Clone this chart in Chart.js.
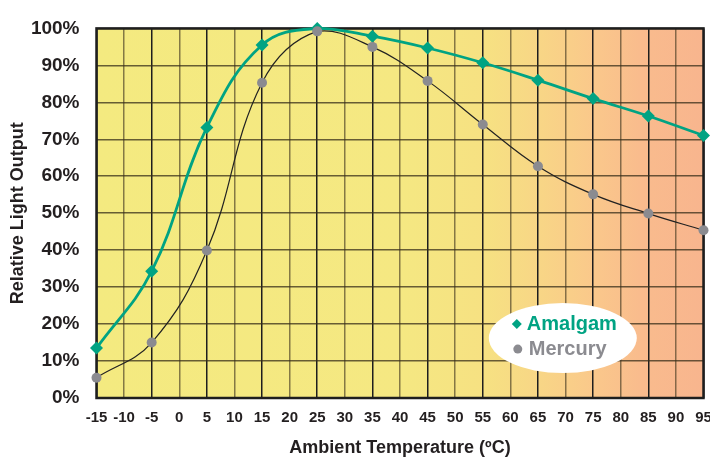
<!DOCTYPE html>
<html>
<head>
<meta charset="utf-8">
<script src="https://cdn.jsdelivr.net/npm/chart.js@4.4.1/dist/chart.umd.min.js"></script>
<style>
html,body{margin:0;padding:0;background:#fff;}
#wrap{position:relative;width:710px;height:458px;}
</style>
</head>
<body>
<div id="wrap"><canvas id="c" width="710" height="458"></canvas></div>
<script>
const temperatures = [-15, -5, 5, 15, 25, 35, 45, 55, 65, 75, 85, 95];
const amalgamOutput = [13.5, 34.3, 73.2, 95.5, 100, 97.9, 94.7, 90.7, 86, 81, 76.3, 71];
const mercuryOutput = [5.5, 15, 39.9, 85.3, 99.2, 95, 85.8, 74, 62.7, 55.1, 49.9, 45.4];
const seriesNames = ['Amalgam', 'Mercury'];
const xAxisTitle = 'Ambient Temperature (ºC)';
const yAxisTitle = 'Relative Light Output';
const xMin = -15, xMax = 95, xStep = 5;
const yMin = 0, yMax = 100, yStep = 10;

const TEAL = '#00a383';
const GREY = '#8b8b90';
const SANS = "'Liberation Sans', Arial, sans-serif";

const bgPlugin = {
  id: 'bg',
  beforeDraw(chart) {
    const {ctx, chartArea: a} = chart;
    const g = ctx.createLinearGradient(a.left, 0, a.right, 0);
    g.addColorStop(0, '#f4ea80');
    g.addColorStop(0.5, '#f5e882');
    g.addColorStop(0.64, '#f6e182');
    g.addColorStop(0.73, '#f8d686');
    g.addColorStop(0.82, '#fac88b');
    g.addColorStop(0.9, '#f9bb8d');
    g.addColorStop(1, '#f8b58e');
    ctx.save();
    ctx.fillStyle = g;
    ctx.fillRect(a.left, a.top, a.right - a.left, a.bottom - a.top);
    ctx.restore();
  },
  beforeDatasetsDraw(chart) {
    const {ctx, chartArea: a} = chart;
    ctx.save();
    ctx.strokeStyle = '#1e1e1e';
    ctx.lineWidth = 2.5;
    ctx.strokeRect(a.left, a.top, a.right - a.left, a.bottom - a.top);
    ctx.restore();
  },
  afterDraw(chart) {
    const {ctx} = chart;
    const xs = chart.scales.x, ys = chart.scales.y;
    const cx = xs.getPixelForValue(69.5), cy = ys.getPixelForValue(16.2);
    ctx.save();
    ctx.fillStyle = '#ffffff';
    ctx.beginPath();
    ctx.ellipse(cx, cy, 74, 35, 0, 0, Math.PI * 2);
    ctx.fill();
    const y1 = cy - 14, y2 = cy + 11;
    ctx.fillStyle = TEAL;
    ctx.beginPath();
    ctx.moveTo(cx - 51, y1);
    ctx.lineTo(cx - 46, y1 - 5);
    ctx.lineTo(cx - 41, y1);
    ctx.lineTo(cx - 46, y1 + 5);
    ctx.closePath();
    ctx.fill();
    ctx.font = 'bold 20px ' + SANS;
    ctx.textBaseline = 'middle';
    ctx.textAlign = 'left';
    ctx.fillText(seriesNames[0], cx - 36, y1);
    ctx.fillStyle = GREY;
    ctx.beginPath();
    ctx.arc(cx - 45, y2, 4.5, 0, Math.PI * 2);
    ctx.fill();
    ctx.fillText(seriesNames[1], cx - 34, y2);
    ctx.restore();
  }
};

const toPts = arr => temperatures.map((t, i) => ({x: t, y: arr[i]}));

new Chart(document.getElementById('c'), {
  type: 'line',
  data: {
    datasets: [
      {
        label: seriesNames[0],
        data: toPts(amalgamOutput),
        borderColor: TEAL,
        backgroundColor: TEAL,
        borderWidth: 2.8,
        pointStyle: 'rectRot',
        pointRadius: 6.5,
        pointBorderWidth: 0,
        pointBackgroundColor: TEAL,
        tension: 0.4,
        clip: false,
        order: 1
      },
      {
        label: seriesNames[1],
        data: toPts(mercuryOutput),
        borderColor: '#222222',
        backgroundColor: GREY,
        borderWidth: 1.2,
        pointStyle: 'circle',
        pointRadius: 5,
        pointBorderWidth: 0,
        pointBackgroundColor: GREY,
        tension: 0.4,
        clip: false,
        order: 0
      }
    ]
  },
  options: {
    responsive: false,
    animation: false,
    devicePixelRatio: 1,
    layout: {padding: {left: 0, right: 6, top: 18, bottom: 0}},
    plugins: {legend: {display: false}, tooltip: {enabled: false}},
    scales: {
      x: {
        type: 'linear',
        min: xMin, max: xMax,
        ticks: {
          stepSize: xStep,
          color: '#231f20',
          font: {family: SANS, size: 15, weight: 'bold'},
          padding: 11,
          maxRotation: 0,
          autoSkip: false
        },
        grid: {
          drawTicks: false,
          lineWidth: 1.5,
          color: ctx => (((ctx.tick.value - xMin) / xStep) % 2 === 0) ? '#1e1e1e' : 'rgba(70,60,35,0.65)'
        },
        border: {display: false},
        title: {
          display: true,
          text: xAxisTitle,
          color: '#231f20',
          font: {family: SANS, size: 18, weight: 'bold', lineHeight: 1.0},
          padding: {top: 0, bottom: 1}
        },
        afterFit: s => { s.height = 60; s.paddingLeft = 0; s.paddingRight = 0; }
      },
      y: {
        min: yMin, max: yMax,
        ticks: {
          stepSize: yStep,
          color: '#231f20',
          font: {family: SANS, size: 19, weight: 'bold'},
          padding: 17,
          callback: v => v + '%'
        },
        grid: {
          drawTicks: false,
          lineWidth: 1.5,
          color: 'rgba(55,45,25,0.75)'
        },
        border: {display: false},
        title: {
          display: true,
          text: yAxisTitle,
          color: '#231f20',
          font: {family: SANS, size: 18, weight: 'bold', lineHeight: 1.0},
          padding: {top: 9, bottom: 0}
        },
        afterFit: s => { s.width = 96.5; }
      }
    }
  },
  plugins: [bgPlugin]
});
</script>
</body>
</html>
